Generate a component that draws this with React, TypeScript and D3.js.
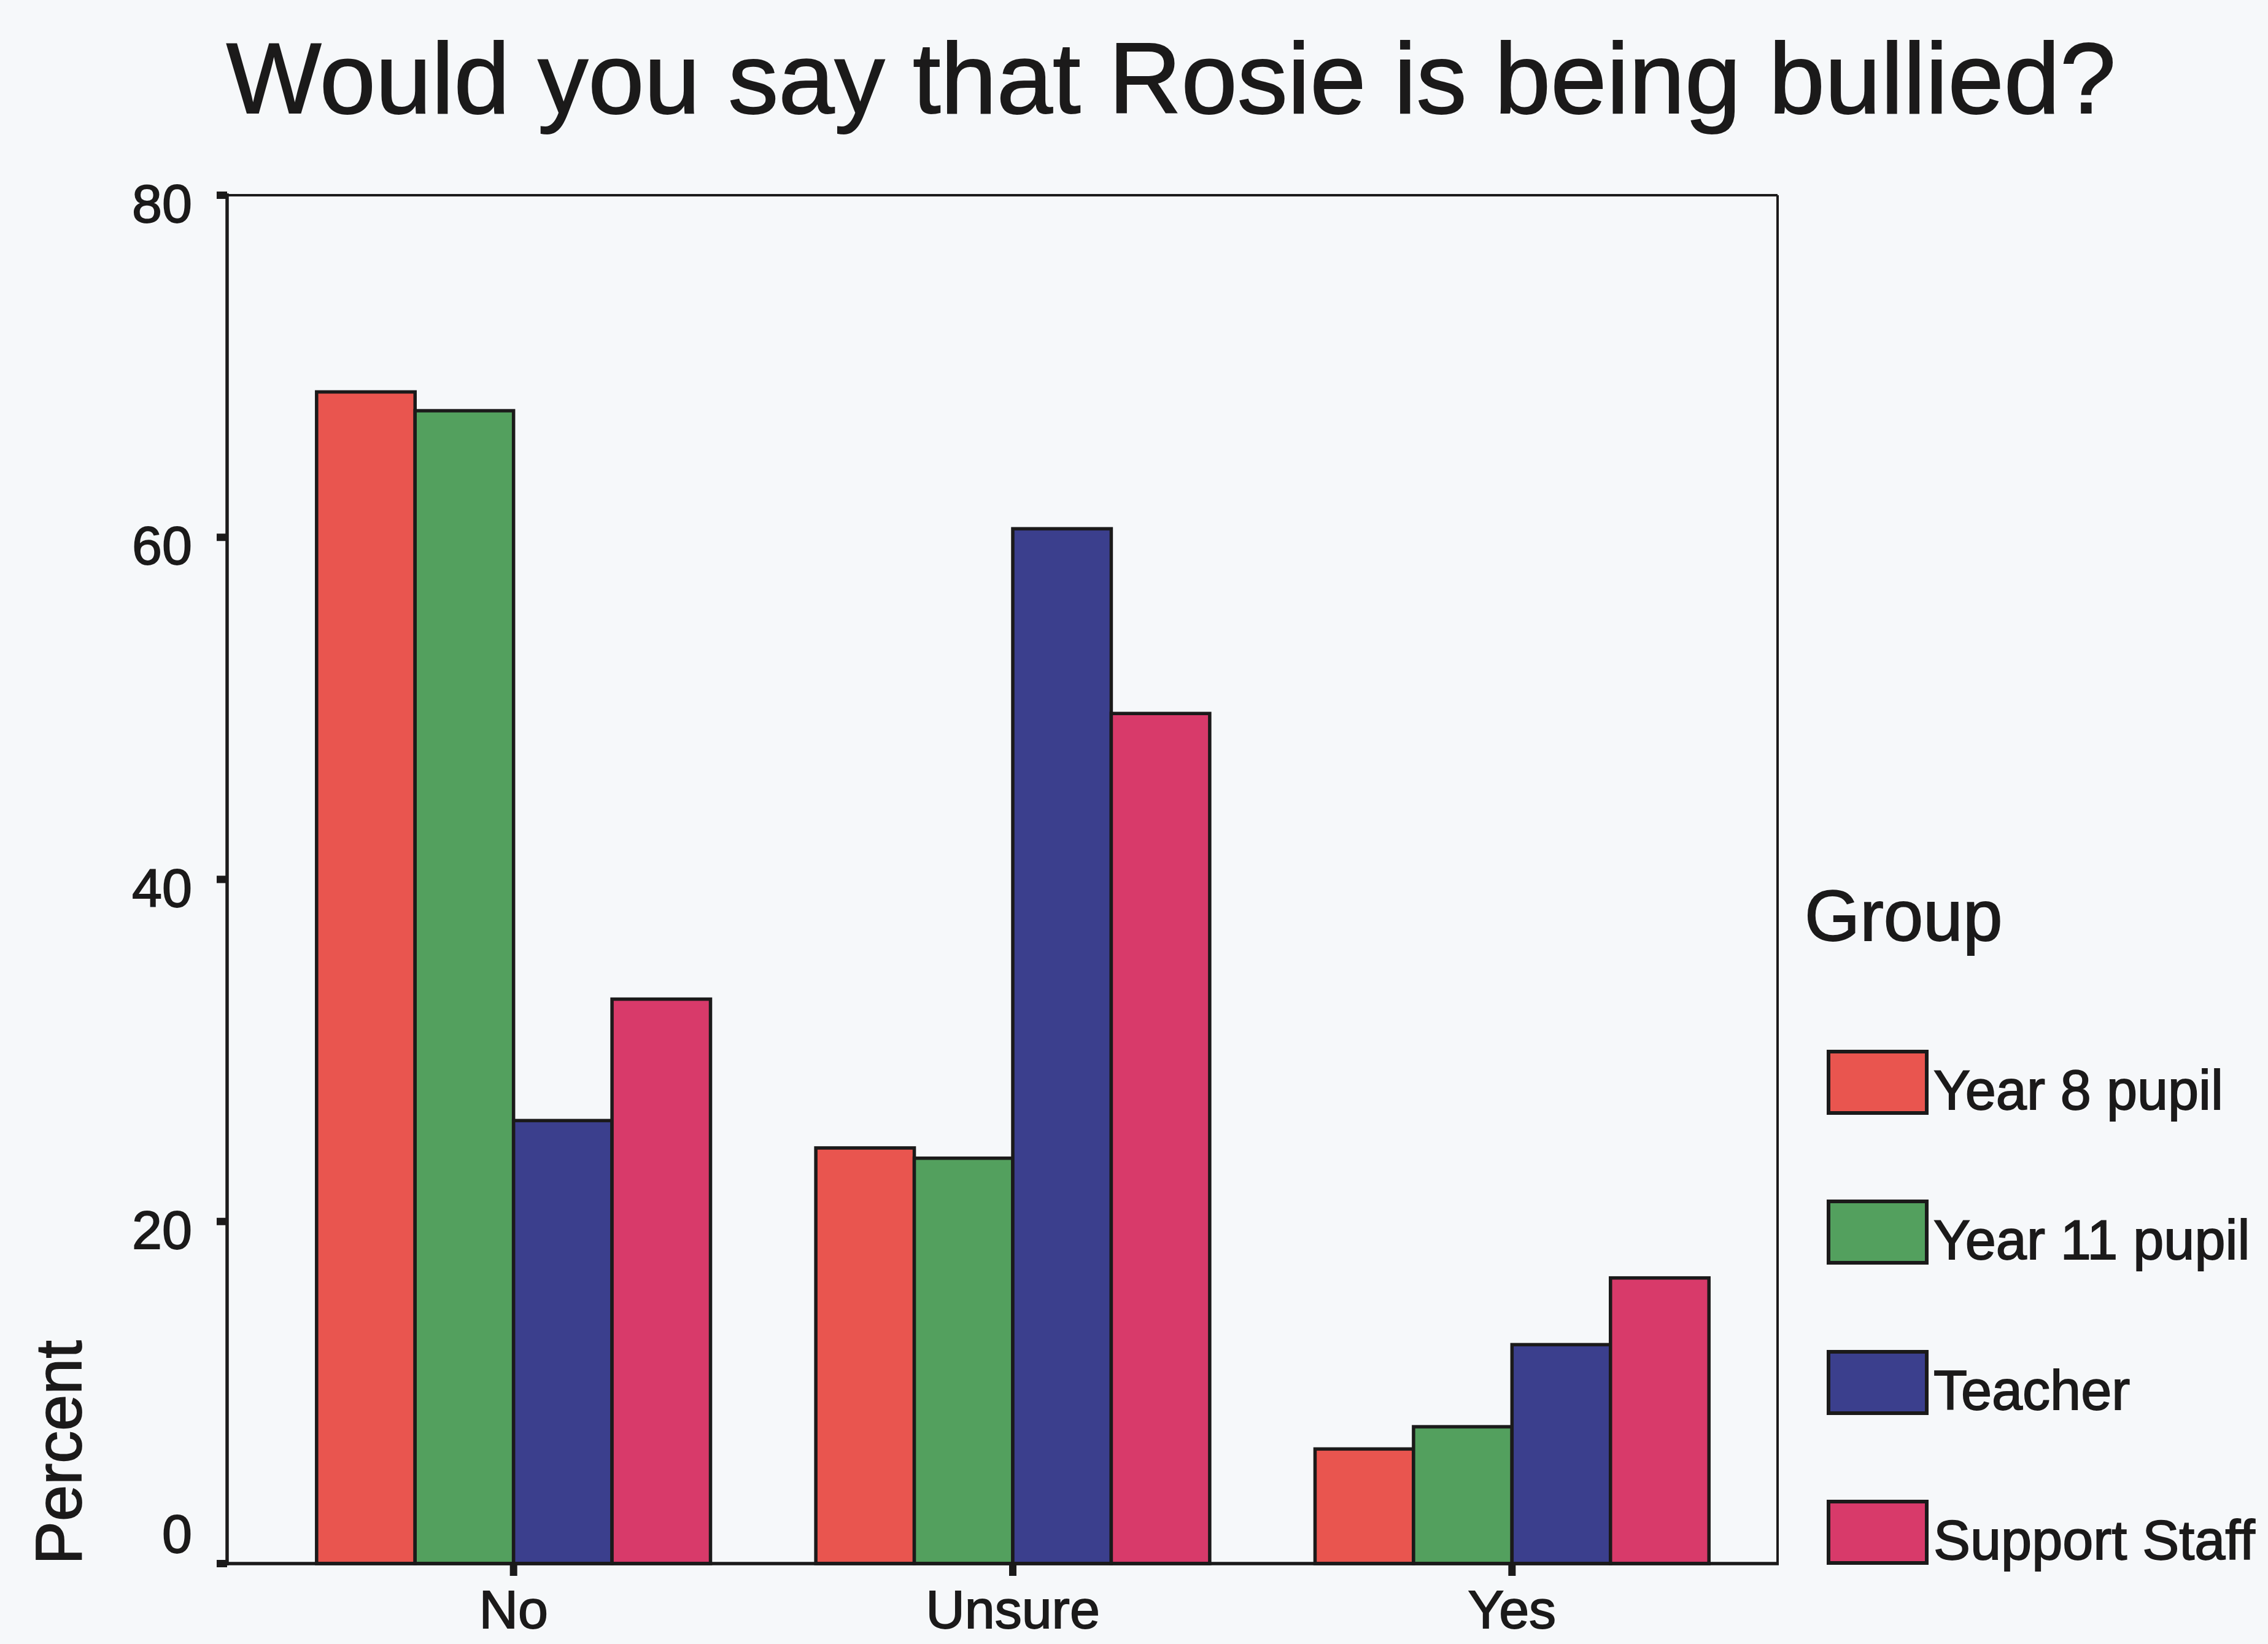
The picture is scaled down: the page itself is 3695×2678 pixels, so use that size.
import React from "react";
import * as d3 from "d3";

const categories = ["No", "Unsure", "Yes"];
const groups = ["Year 8 pupil", "Year 11 pupil", "Teacher", "Support Staff"];
const year8 = [68.5, 24.3, 6.7];
const year11 = [67.4, 23.7, 8.0];
const teacher = [25.9, 60.5, 12.8];
const supportStaff = [33.0, 49.7, 16.7];
const yTicks = [0, 20, 40, 60, 80];
const colors = ["#E9554F", "#53A05E", "#3B3F8D", "#D83A6A"];

const seriesValues = [year8, year11, teacher, supportStaff];

const W = 3695;
const H = 2678;
const plotLeft = 370;
const plotRight = 2896;
const plotTop = 318;
const plotBottom = 2547;
const font = "'Liberation Sans', Arial, Helvetica, sans-serif";
const ink = "#1b1a1a";
const textStroke = { stroke: ink, strokeWidth: 1.8 };

export default function App() {
  const y = d3.scaleLinear().domain([0, 80]).range([plotBottom, plotTop]);
  const xCat = d3.scaleBand<string>().domain(categories).range([430, 2870]).padding(0);
  const groupWidth = xCat.bandwidth() * 0.789;
  const xSub = d3.scaleBand<string>().domain(groups).range([0, groupWidth]).padding(0);

  const legendY = [1763, 2007, 2252, 2496];

  return (
    <svg
      width={W}
      height={H}
      viewBox={`0 0 ${W} ${H}`}
      style={{ position: "absolute", left: 0, top: 0, background: "#F6F8FA" }}
    >
      <rect x={0} y={0} width={W} height={H} fill="#F6F8FA" />
      <text
        x={1908}
        y={184}
        textAnchor="middle"
        fontFamily={font}
        fontSize={164}
        fill={ink}
        {...textStroke}
      >
        Would you say that Rosie is being bullied?
      </text>

      {/* frame */}
      <line x1={plotLeft} y1={plotTop} x2={plotRight} y2={plotTop} stroke={ink} strokeWidth={4} />
      <line x1={plotRight} y1={plotTop} x2={plotRight} y2={plotBottom} stroke={ink} strokeWidth={4} />

      {/* bars */}
      {categories.map((c, ci) => {
        const cx = (xCat(c) as number) + xCat.bandwidth() / 2;
        const gx = cx - groupWidth / 2;
        return groups.map((g, gi) => {
          const v = seriesValues[gi][ci];
          return (
            <rect
              key={c + g}
              x={gx + (xSub(g) as number)}
              y={y(v)}
              width={xSub.bandwidth()}
              height={plotBottom - y(v)}
              fill={colors[gi]}
              stroke={ink}
              strokeWidth={5.5}
            />
          );
        });
      })}

      {/* axes */}
      <line x1={plotLeft} y1={plotTop - 3} x2={plotLeft} y2={plotBottom + 3} stroke={ink} strokeWidth={5.5} />
      <line x1={plotLeft - 3} y1={plotBottom} x2={plotRight + 2} y2={plotBottom} stroke={ink} strokeWidth={5.5} />

      {yTicks.map((t) => (
        <g key={t}>
          <rect x={plotLeft - 17} y={y(t) - 6} width={17} height={12} fill={ink} />
          <text
            x={313}
            y={y(t) + (t === 0 ? -18 : 44)}
            textAnchor="end"
            fontFamily={font}
            fontSize={88}
            fill={ink}
            {...textStroke}
          >
            {t}
          </text>
        </g>
      ))}

      {categories.map((c) => {
        const cx = (xCat(c) as number) + xCat.bandwidth() / 2;
        return (
          <g key={c}>
            <rect x={cx - 6} y={plotBottom} width={12} height={20} fill={ink} />
            <text x={cx} y={2652} textAnchor="middle" fontFamily={font} fontSize={88} fill={ink} {...textStroke}>
              {c}
            </text>
          </g>
        );
      })}

      <text
        transform={`translate(132, 2366) rotate(-90)`}
        textAnchor="middle"
        fontFamily={font}
        fontSize={106}
        fill={ink}
        {...textStroke}
      >
        Percent
      </text>

      {/* legend */}
      <text x={2940} y={1532} fontFamily={font} fontSize={116} fill={ink} {...textStroke}>
        Group
      </text>
      {groups.map((g, i) => (
        <g key={g}>
          <rect
            x={2979}
            y={legendY[i] - 50}
            width={160}
            height={100}
            fill={colors[i]}
            stroke={ink}
            strokeWidth={6}
          />
          <text x={3150} y={legendY[i] + 44} fontFamily={font} fontSize={90} fill={ink} {...textStroke}>
            {g}
          </text>
        </g>
      ))}
    </svg>
  );
}
